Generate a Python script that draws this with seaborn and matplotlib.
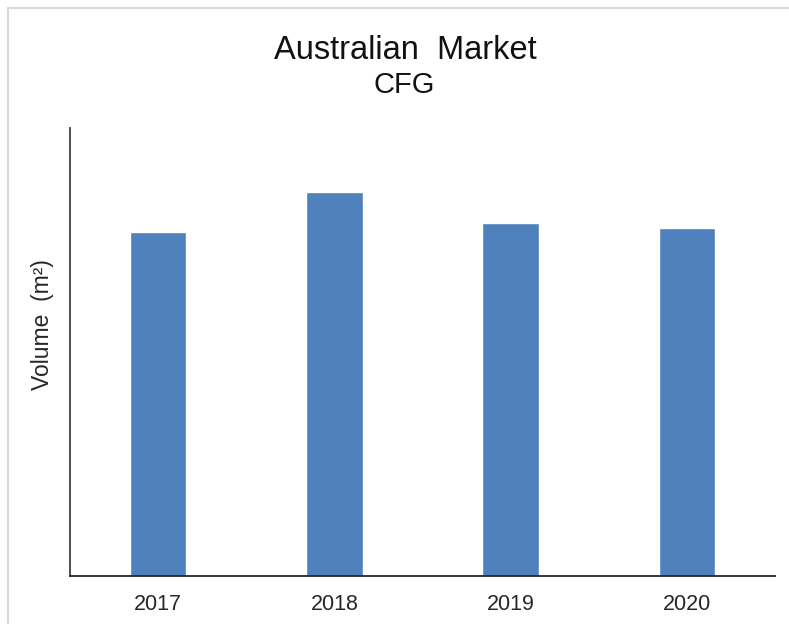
import matplotlib
matplotlib.use("Agg")
import matplotlib.pyplot as plt
import seaborn as sns
import pandas as pd
from matplotlib.lines import Line2D

years = ["2017", "2018", "2019", "2020"]
volumes = [344, 384, 353, 348]

sns.set_theme(style="white")
plt.rcParams['font.family'] = ['Liberation Sans', 'DejaVu Sans']

df = pd.DataFrame({"Year": years, "Volume": volumes})

W, H = 789, 624
fig = plt.figure(figsize=(W/100, H/100), dpi=100)
ax = fig.add_axes([70/W, 48/H, 705/W, 448/H])
sns.barplot(data=df, x="Year", y="Volume", color="#4F81BD", saturation=1,
            width=0.32, ax=ax)
ax.set_xlim(-0.5, 3.5)
ax.set_ylim(0, 448)
ax.set_yticks([])
ax.set_xlabel("")
ax.set_ylabel("")
ax.tick_params(axis="x", labelsize=15.5, colors="#262626", length=0, pad=13)
for s in ["top", "right"]:
    ax.spines[s].set_visible(False)
ax.spines["left"].set_color("#404040")
ax.spines["bottom"].set_color("#262626")
ax.spines["left"].set_linewidth(1.3)
ax.spines["bottom"].set_linewidth(1.3)

fig.text(43/W, 1 - 325/H, "Volume  (m²)", ha="center", va="center",
         rotation=90, fontsize=16.5, color="#262626")

fig.text(405/W, 1 - 59/H, "Australian  Market", ha="center", va="baseline",
         fontsize=23.5, color="#111111")
fig.text(404/W, 1 - 93/H, "CFG", ha="center", va="baseline",
         fontsize=21, color="#111111")

# light frame lines at top and left
fig.add_artist(Line2D([8/W, 8/W], [0, 1 - 8/H], transform=fig.transFigure,
                      color="#d9d9d9", lw=1.5))
fig.add_artist(Line2D([8/W, 1], [1 - 8/H, 1 - 8/H], transform=fig.transFigure,
                      color="#d9d9d9", lw=1.5))

fig.savefig("out.png", dpi=100)
